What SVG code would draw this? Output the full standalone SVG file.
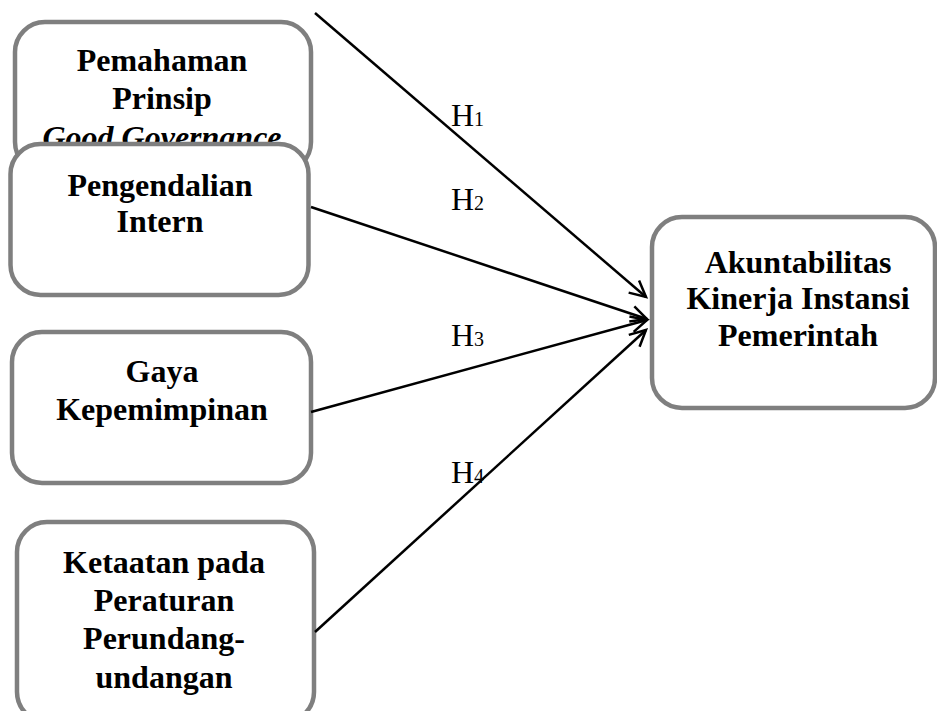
<svg xmlns="http://www.w3.org/2000/svg" width="937" height="711" viewBox="0 0 937 711">
<style>
.box{fill:#fff;stroke:#7f7f7f;stroke-width:4.5}
.t{font-family:"Liberation Serif","Times New Roman",serif;font-weight:bold;font-size:32px;text-anchor:middle;fill:#000}
.h{font-family:"Liberation Serif","Times New Roman",serif;font-size:32px;fill:#000}
.s{font-size:20px}
.c{stroke:#000;stroke-width:2.5;fill:none}
</style>
<defs>
<marker id="arr" markerUnits="userSpaceOnUse" markerWidth="24" markerHeight="24" refX="18" refY="9" orient="auto" viewBox="0 0 24 18">
<path d="M2,1 L18,9 L2,17" fill="none" stroke="#000" stroke-width="2.5"/>
</marker>
</defs>
<rect width="937" height="711" fill="#fff"/>
<g id="node-pemahaman">
<rect class="box" x="15" y="22" width="296" height="150" rx="30"/>
<text class="t" x="162" y="71">Pemahaman</text>
<text class="t" x="162" y="109">Prinsip</text>
<text class="t" x="162" y="148" font-style="italic">Good Governance</text>
</g>
<g id="node-pengendalian">
<rect class="box" x="10.5" y="144" width="298" height="151" rx="30"/>
<text class="t" x="160" y="196">Pengendalian</text>
<text class="t" x="160" y="232">Intern</text>
</g>
<g id="node-gaya">
<rect class="box" x="12" y="332" width="299" height="151" rx="30"/>
<text class="t" x="162" y="382">Gaya</text>
<text class="t" x="162" y="420">Kepemimpinan</text>
</g>
<g id="node-ketaatan">
<rect class="box" x="17" y="522" width="297" height="200" rx="30"/>
<text class="t" x="164" y="573">Ketaatan pada</text>
<text class="t" x="164" y="611">Peraturan</text>
<text class="t" x="164" y="649">Perundang-</text>
<text class="t" x="164" y="688">undangan</text>
</g>
<g id="node-akuntabilitas">
<rect class="box" x="652" y="217" width="283" height="191" rx="30"/>
<text class="t" x="798" y="273">Akuntabilitas</text>
<text class="t" x="798" y="309">Kinerja Instansi</text>
<text class="t" x="798" y="346">Pemerintah</text>
</g>
<g id="connectors">
<line class="c" x1="315" y1="13" x2="646" y2="297" marker-end="url(#arr)"/>
<line class="c" x1="311" y1="207" x2="647" y2="319" marker-end="url(#arr)"/>
<line class="c" x1="311" y1="412" x2="647" y2="320" marker-end="url(#arr)"/>
<line class="c" x1="315" y1="632" x2="646" y2="330" marker-end="url(#arr)"/>
<text class="h" x="451" y="126">H<tspan class="s">1</tspan></text>
<text class="h" x="451" y="210">H<tspan class="s">2</tspan></text>
<text class="h" x="451" y="346">H<tspan class="s">3</tspan></text>
<text class="h" x="451" y="483">H<tspan class="s">4</tspan></text>
</g>
</svg>
